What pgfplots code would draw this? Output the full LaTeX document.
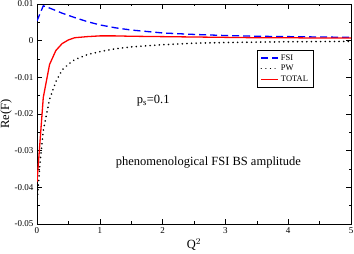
\documentclass[border=0pt]{standalone}
\usepackage{pgfplots}
\pgfplotsset{compat=1.18}
\usepackage{fontspec}
\setmainfont{Liberation Serif}
\begin{document}
\begin{tikzpicture}
\begin{axis}[
  name=ax,
  scale only axis,
  width=314pt, height=220pt,
  xmin=0, xmax=5, ymin=-0.05, ymax=0.01,
  xtick={0,1,2,3,4,5},
  minor xtick={0.5,1.5,2.5,3.5,4.5},
  ytick={-0.05,-0.04,-0.03,-0.02,-0.01,0,0.01},
  yticklabels={-0.05,-0.04,-0.03,-0.02,-0.01,0,0.01},
  minor ytick={-0.045,-0.035,-0.025,-0.015,-0.005,0.005},
  tick align=inside,
  major tick length=5pt, minor tick length=2.5pt,
  tick style={black, line width=0.6pt},
  axis line style={line width=0.8pt},
  ticklabel style={font=\fontsize{9}{10}\selectfont},
  /pgf/number format/assume math mode=true,
  xlabel={Q$^{2}$}, ylabel={Re(F)},
  label style={font=\fontsize{12.5}{14}\selectfont},
  xlabel style={yshift=2pt},
  ylabel style={yshift=-4pt},
  legend style={at={(rel axis cs:0.70,0.79)}, anchor=north west,
    font=\fontsize{8.5}{10}\selectfont, draw=black, line width=0.6pt,
    inner xsep=3.5pt, inner ysep=2pt, row sep=-0.5pt},
  legend cell align=left,
  legend image post style={line width=1.3pt},
  clip=true,
]
\addplot[blue, line width=1.3pt, dash pattern=on 7pt off 4pt] coordinates {
(0,0.0054) (0.1,0.0095) (0.2,0.0089) (0.3,0.0082) (0.4,0.0075) (0.5,0.0069)
(0.6,0.0063) (0.8,0.0052) (1.0,0.0043) (1.25,0.0035) (1.5,0.0029) (2,0.0021)
(2.5,0.0017) (3,0.0014) (3.5,0.0012) (4,0.0011) (4.5,0.0010) (5,0.0009)};
\addlegendentry{FSI}
\addplot[black, line width=1.8pt, dash pattern=on 0.01pt off 4.6pt, line cap=round] coordinates {
(0,-0.0444) (0.05,-0.0330) (0.1,-0.0245) (0.2,-0.0160) (0.3,-0.0112) (0.4,-0.0080) (0.5,-0.0064)
(0.6,-0.0052) (0.8,-0.0038) (1.0,-0.0030) (1.25,-0.0022) (1.5,-0.0017) (2,-0.0011)
(2.5,-0.0007) (3,-0.0005) (3.5,-0.0004) (4,-0.0003) (4.5,-0.00025) (5,-0.0002)};
\addlegendentry{PW}
\addplot[red, line width=1.3pt] coordinates {
(0,-0.0386) (0.1,-0.0155) (0.2,-0.0065) (0.3,-0.0027) (0.4,-0.0008) (0.5,0.0002)
(0.6,0.0008) (0.8,0.0011) (1.0,0.0013) (1.25,0.0013) (1.5,0.0012) (2,0.0011)
(2.5,0.0010) (3,0.0009) (3.5,0.0008) (4,0.0008) (4.5,0.0007) (5,0.0007)};
\addlegendentry{TOTAL}
\node[font=\fontsize{12.5}{14}\selectfont, anchor=base] at (axis cs:1.85,-0.0172) {p$_{\mathrm{s}}$=0.1};
\node[font=\fontsize{12.5}{14}\selectfont] at (axis cs:2.73,-0.0332) {phenomenological FSI BS amplitude};
\end{axis}
\pgfresetboundingbox
\path (ax.south west) ++(-37pt,-30pt) coordinate (bl);
\path (ax.north east) ++(3pt,4pt) coordinate (tr);
\path[use as bounding box] (bl) rectangle (tr);
\end{tikzpicture}
\end{document}
